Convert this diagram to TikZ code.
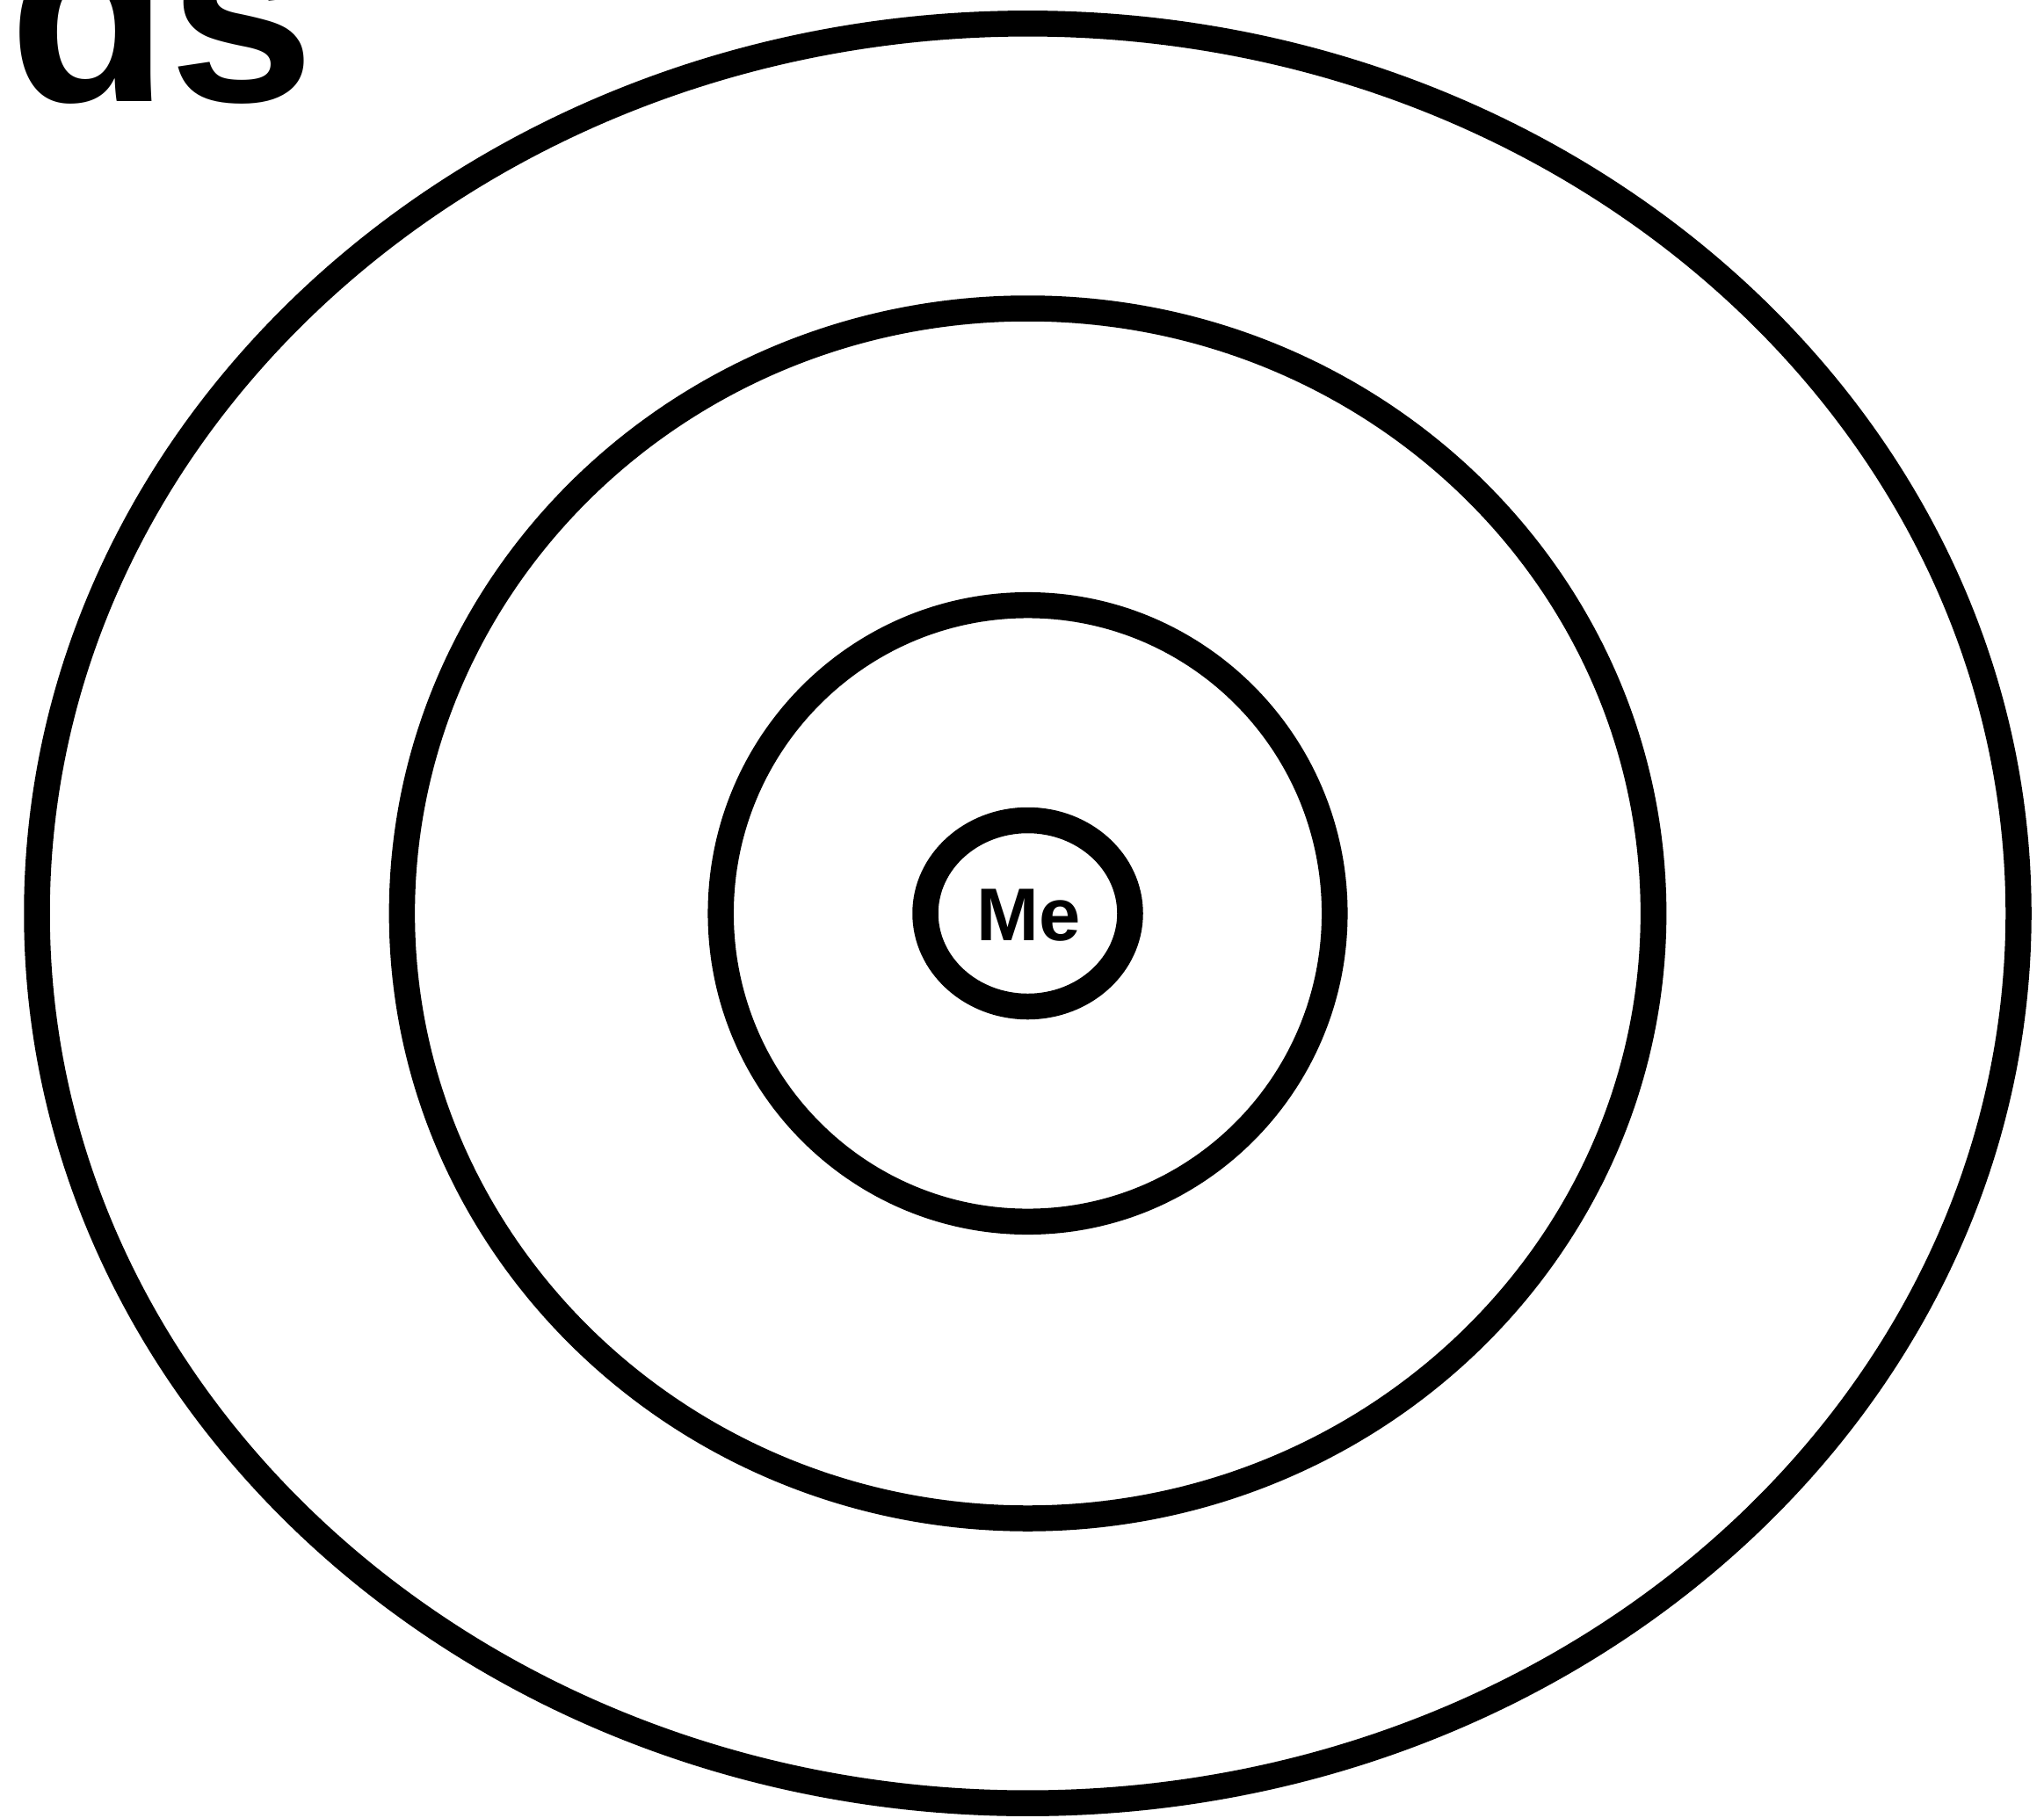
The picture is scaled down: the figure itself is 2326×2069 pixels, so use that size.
\documentclass[tikz,border=0pt]{standalone}
\usepackage{fontspec}
\setmainfont{Liberation Sans}
\usetikzlibrary{shapes.geometric}
\begin{document}
\begin{tikzpicture}[x=1pt,y=-1pt,
  ring/.style={draw=black, line width=29.5pt, ellipse, inner sep=0pt, fill=none},
  lbl/.style={inner sep=0pt}]
\useasboundingbox (0,0) rectangle (2326,2069);
\fill[white] (0,0) rectangle (2326,2069);
\node[ring, minimum width=2255pt, minimum height=2025.4pt] (outer) at (1169.5,1039.5) {};
\node[ring, minimum width=1424.2pt, minimum height=1377pt] (middle) at (1169.5,1039.5) {};
\node[ring, minimum width=698.6pt, minimum height=701.6pt] (inner) at (1169.5,1039.5) {};
\node[ring, minimum width=233pt, minimum height=212pt] (core) at (1169.5,1039.5) {};
\node[lbl, font=\fontsize{85}{85}\selectfont\bfseries] (me) at (1171,1041.5) {Me};
\node[lbl, anchor=base west, font=\fontsize{298}{298}\selectfont\bfseries] (title) at (10,115) {ds};
\end{tikzpicture}
\end{document}
